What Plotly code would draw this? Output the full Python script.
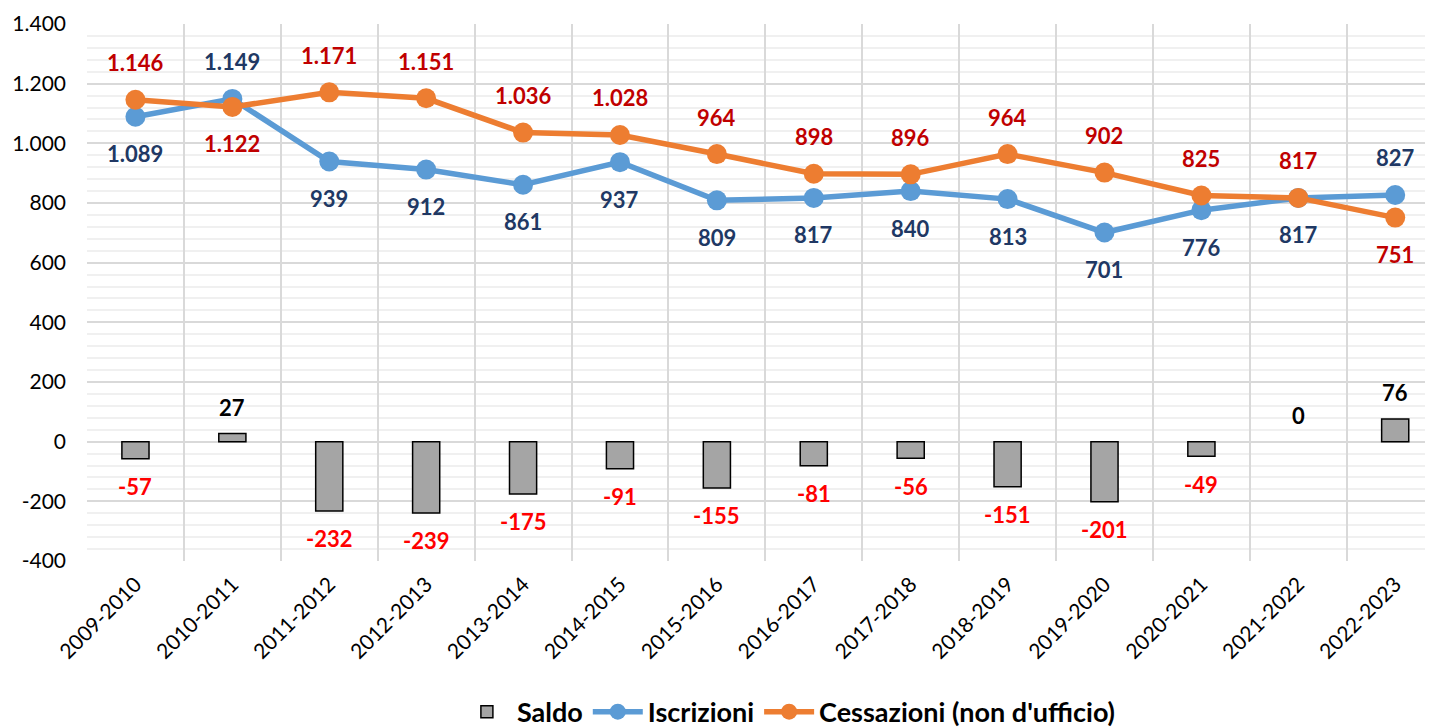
import plotly.graph_objects as go

anni = ["2009-2010", "2010-2011", "2011-2012", "2012-2013", "2013-2014", "2014-2015",
        "2015-2016", "2016-2017", "2017-2018", "2018-2019", "2019-2020", "2020-2021",
        "2021-2022", "2022-2023"]
iscrizioni = [1089, 1149, 939, 912, 861, 937, 809, 817, 840, 813, 701, 776, 817, 827]
cessazioni = [1146, 1122, 1171, 1151, 1036, 1028, 964, 898, 896, 964, 902, 825, 817, 751]
saldo = [-57, 27, -232, -239, -175, -91, -155, -81, -56, -151, -201, -49, 0, 76]
y_ticks = [-400, -200, 0, 200, 400, 600, 800, 1000, 1200, 1400]

FONT = "Lato"
BLUE = "#5B9BD5"
ORANGE = "#ED7D31"
NAVY = "#203864"
DARKRED = "#C00000"


def fmt(v):
    return f"{v:,}".replace(",", ".")


fig = go.Figure()
fig.add_trace(go.Bar(
    x=anni, y=saldo, name="Saldo",
    marker=dict(color="#A5A5A5",
                line=dict(color="#000000", width=[0 if s == 0 else 1.5 for s in saldo])),
))
fig.add_trace(go.Scatter(
    x=anni, y=iscrizioni, name="Iscrizioni", mode="lines+markers",
    line=dict(color=BLUE, width=5.5), marker=dict(color=BLUE, size=20),
))
fig.add_trace(go.Scatter(
    x=anni, y=cessazioni, name="Cessazioni (non d'ufficio)", mode="lines+markers",
    line=dict(color=ORANGE, width=5.5), marker=dict(color=ORANGE, size=20),
))

ann = []
for a, i, c, s in zip(anni, iscrizioni, cessazioni, saldo):
    ann.append(dict(x=a, y=i, text=f"<b>{fmt(i)}</b>", showarrow=False,
                    yshift=37 if i > c else -37,
                    font=dict(family=FONT, size=22, color=NAVY)))
    ann.append(dict(x=a, y=c, text=f"<b>{fmt(c)}</b>", showarrow=False,
                    yshift=37 if c >= i else -37,
                    font=dict(family=FONT, size=22, color=DARKRED)))
    ann.append(dict(x=a, y=s, text=f"<b>{fmt(s)}</b>", showarrow=False,
                    yshift=26 if s >= 0 else -28,
                    font=dict(family=FONT, size=22,
                              color="#000000" if s >= 0 else "#FF0000")))

fig.update_layout(
    width=1425, height=720,
    margin=dict(l=79, r=0, t=16, b=167, autoexpand=False),
    plot_bgcolor="white", paper_bgcolor="white",
    separators=",.",
    bargap=0.72,
    font=dict(family=FONT, size=21, color="#000000"),
    annotations=ann,
    showlegend=True,
    legend=dict(orientation="h", xref="container", x=0.548, xanchor="center",
                yref="container", y=0.022, yanchor="middle",
                font=dict(family=FONT, size=27, color="#000000", weight="bold"),
                itemwidth=50, traceorder="normal"),
    xaxis=dict(
        type="category", range=[-0.5, 13.39],
        tickson="boundaries", showgrid=True, gridcolor="#D9D9D9", gridwidth=2,
        tickangle=-45, tickfont=dict(family=FONT, size=21),
        ticks="", showline=False, zeroline=False, ticklabelstandoff=6,
    ),
    yaxis=dict(
        range=[-400, 1400], tickmode="array", tickvals=y_ticks,
        ticktext=[fmt(v) for v in y_ticks],
        showgrid=True, gridcolor="#D9D9D9", gridwidth=2,
        zeroline=False, showline=False,
        tickfont=dict(family=FONT, size=21), ticklabelstandoff=20,
        minor=dict(dtick=40, showgrid=True, gridcolor="#F0F0F0", gridwidth=2),
    ),
)

fig.write_html("out.html")
